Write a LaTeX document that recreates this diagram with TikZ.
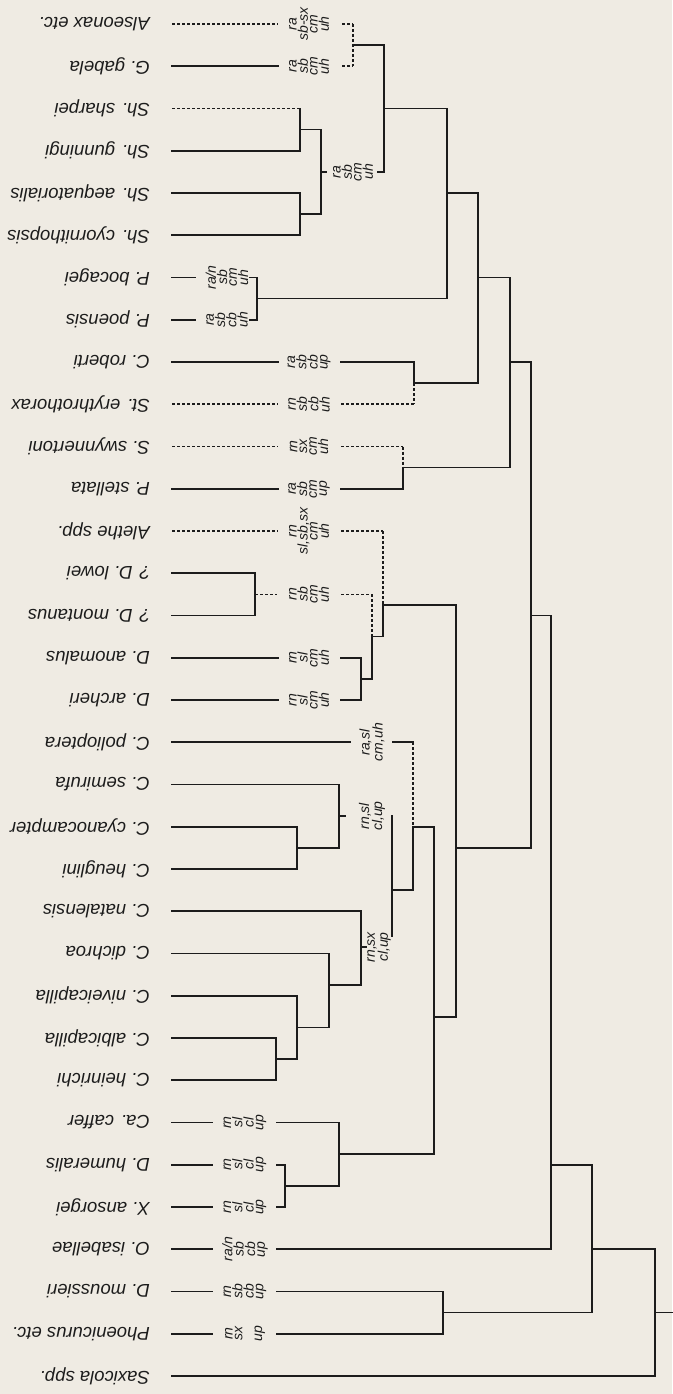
\documentclass[tikz,border=0pt]{standalone}
\usepackage{fontspec}
\setmainfont{Liberation Sans}
\definecolor{fon}{RGB}{239,235,227}
\definecolor{tush}{RGB}{28,28,28}
\tikzset{
  vid/.style={rotate=180,anchor=west,inner sep=0pt,text=tush,
    font=\fontsize{18.5}{20}\selectfont\itshape},
  kod/.style={rotate=90,align=center,inner sep=0pt,text=tush,
    font=\fontsize{14}{9.8}\selectfont\itshape},
  vetv/.style={draw=tush,line width=1.6pt,line cap=rect},
  punktir/.style={draw=tush,line width=1.6pt,dash pattern=on 3pt off 2pt}
}
\begin{document}
\begin{tikzpicture}[x=1pt,y=-42.25pt]
\fill[fon] (0,-0.568) rectangle (672,32.426);
\useasboundingbox (0,-0.568) rectangle (672,32.426);

% Названия видов
\foreach \i/\name in {0/Alseonax etc.,1/G. gabela,2/Sh. sharpei,3/Sh. gunningi,
    4/Sh. aequatorialis,5/Sh. cyornithopsis,6/P. bocagei,7/P. poensis,
    8/C. roberti,9/St. erythrothorax,10/S. swynnertoni,11/P. stellata,
    12/Alethe spp.,13/? D. lowei,14/? D. montanus,15/D. anomalus,16/D. archeri,
    17/C. polioptera,18/C. semirufa,19/C. cyanocampter,20/C. heuglini,
    21/C. natalensis,22/C. dichroa,23/C. niveicapilla,24/C. albicapilla,
    25/C. heinrichi,26/Ca. caffer,27/D. humeralis,28/X. ansorgei,
    29/O. isabellae,30/D. moussieri,31/Phoenicurus etc.,32/Saxicola spp.}
    \node[vid] (v\i) at (150,\i) {\name};

% Признаки у концевых ветвей
\foreach \x/\i/\t in {309/0/{ra\\sb-sx\\cm\\uh},309/1/{ra\\sb\\cm\\uh},
    227/6/{ra/n\\sb\\cm\\uh},227/7/{ra\\sb\\cb\\uh},
    309/8/{ra\\sb\\cb\\up},309/9/{rn\\sb\\cb\\uh},309/10/{rn\\sx\\cm\\uh},
    309/11/{ra\\sb\\cm\\up},309/12/{rn\\sl,sb,sx\\cm\\uh},
    309/15/{rn\\sl\\cm\\uh},309/16/{rn\\sl\\cm\\uh},
    245/26/{rn\\sl\\cl\\up},245/27/{rn\\sl\\cl\\up},245/28/{rn\\sl\\cl\\up},
    245/29/{ra/n\\sb\\cb\\up},245/30/{rn\\sb\\cb\\up},245/31/{rn\\sx\\~\\up}}
    \node[kod] (k\i) at (\x,\i) {\t};
% Признаки групп
\node[kod] (ksh) at (353,3.5) {ra\\sb\\cm\\uh};
\node[kod] (kdl) at (309,13.5) {rn\\sb\\cm\\uh};
\node[kod] (kpol) at (372,17) {ra,sl\\cm,uh};
\node[kod] (ksem) at (372,18.75) {rn,sl\\cl,up};
\node[kod] (knat) at (379,21.85) {rn,sx\\cl,up};

% Концевые ветви
\foreach \xa/\ya/\xb/\yb in {172/1/278/1,172/3/300/3,172/4/300/4,172/5/300/5,
    172/6/195/6,172/7/195/7,172/8/278/8,341/8/414/8,172/11/278/11,341/11/403/11,
    172/13/255/13,172/14/255/14,172/15/278/15,341/15/361/15,172/16/278/16,
    341/16/361/16,172/17/350/17,393/17/413/17,172/18/339/18,172/19/297/19,
    172/20/297/20,172/21/361/21,172/22/329/22,172/23/297/23,172/24/276/24,
    172/25/276/25,172/26/212/26,277/26/339/26,172/27/212/27,277/27/285/27,
    172/28/212/28,277/28/285/28,172/29/212/29,277/29/551/29,172/30/212/30,
    277/30/443/30,172/31/212/31,277/31/443/31,172/32/655/32,
    250/6/257/6,250/7/257/7,321/3.5/326/3.5,378/3.5/384/3.5,
    339/18.75/345/18.75,361/21.85/366/21.85}
    \draw[vetv] (\xa,\ya) -- (\xb,\yb);

% Узлы дерева
\foreach \xa/\ya/\xb/\yb in {300/2/300/3,300/4/300/5,321/2.5/321/4.5,
    384/0.5/384/3.5,257/6/257/7,447/2/447/6.5,414/8/414/8.5,478/4/478/8.5,
    403/10.5/403/11,510/6/510/10.5,531/8/531/19.5,255/13/255/14,
    372/14.5/372/15.5,361/15/361/16,383/13.75/383/14.5,413/19/413/20.5,
    297/19/297/20,339/18/339/19.5,392/18.75/392/21.6,276/24/276/25,
    297/23/297/24.5,329/22/329/23.75,361/21/361/22.75,285/27/285/28,
    339/26/339/27.5,434/19/434/26.75,456/13.75/456/23.5,551/14/551/29,
    443/30/443/31,592/27/592/30.5,655/29/655/32,
    353/0.5/384/0.5,300/2.5/321/2.5,300/4.5/321/4.5,384/2/447/2,
    257/6.5/447/6.5,447/4/478/4,414/8.5/478/8.5,478/6/510/6,
    403/10.5/510/10.5,510/8/531/8,383/13.75/456/13.75,372/14.5/383/14.5,
    361/15.5/372/15.5,297/19.5/339/19.5,392/20.5/413/20.5,413/19/434/19,
    276/24.5/297/24.5,297/23.75/329/23.75,329/22.75/361/22.75,
    285/27.5/339/27.5,339/26.75/434/26.75,434/23.5/456/23.5,
    456/19.5/531/19.5,531/14/551/14,551/27/592/27,443/30.5/592/30.5,
    592/29/655/29,655/30.5/672/30.5}
    \draw[vetv] (\xa,\ya) -- (\xb,\yb);

% Пунктир
\foreach \xa/\ya/\xb/\yb in {172/0/278/0,342/0/353/0,342/1/353/1,353/0/353/1,
    172/2/300/2,172/9/278/9,341/9/414/9,414/8.5/414/9,
    172/10/278/10,341/10/403/10,403/10/403/10.5,
    172/12/278/12,341/12/383/12,383/12/383/13.75,
    255/13.5/277/13.5,341/13.5/372/13.5,372/13.5/372/14.5,413/17/413/19}
    \draw[punktir] (\xa,\ya) -- (\xb,\yb);
\end{tikzpicture}
\end{document}
